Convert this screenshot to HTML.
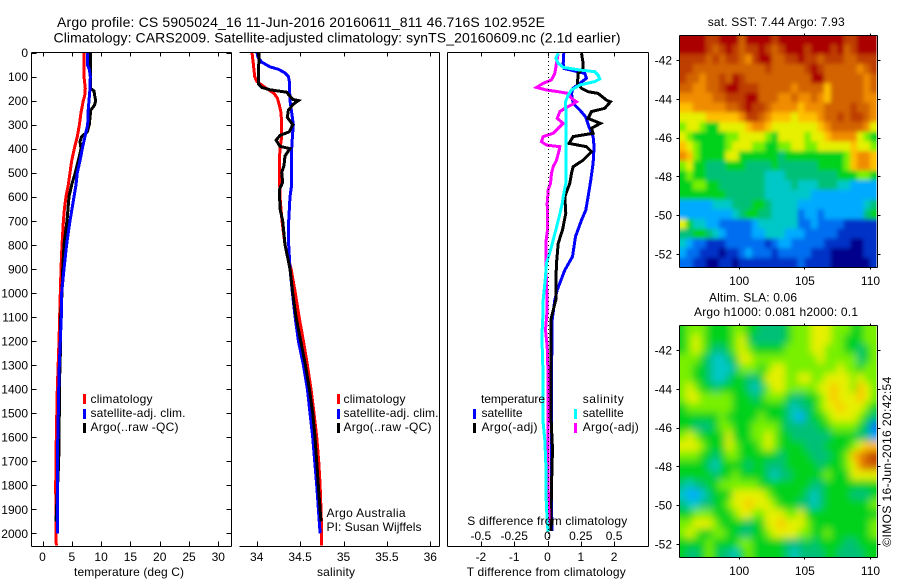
<!DOCTYPE html>
<html lang="en">
<head>
<meta charset="utf-8">
<title>Argo profile</title>
<style>
html,body{margin:0;padding:0;background:#fff;}
svg{display:block;}
text{font-family:"Liberation Sans",sans-serif;font-size:12px;fill:#000;}
.t14{font-size:14px;}
</style>
</head>
<body>
<svg id="chart" xmlns="http://www.w3.org/2000/svg" width="900" height="580" viewBox="0 0 900 580">
<defs>
<clipPath id="sst-clip"><rect x="680" y="36" width="196.5" height="231"/></clipPath>
<clipPath id="sla-clip"><rect x="680" y="326" width="196.5" height="231"/></clipPath>
<filter id="sst-soft" x="-10%" y="-10%" width="120%" height="120%"><feGaussianBlur stdDeviation="2"/></filter>
<filter id="sla-soft" x="-10%" y="-10%" width="120%" height="120%"><feGaussianBlur stdDeviation="4"/></filter>
</defs>
<rect x="0" y="0" width="900" height="580" fill="#fff"/>
<text class="t14" x="57" y="27" textLength="488" lengthAdjust="spacing">Argo profile: CS 5905024_16 11-Jun-2016 20160611_811 46.716S 102.952E</text>
<text class="t14" x="53.5" y="42.5" textLength="567" lengthAdjust="spacing">Climatology: CARS2009. Satellite-adjusted climatology: synTS_20160609.nc (2.1d earlier)</text>
<g clip-path="url(#sst-clip)"><g id="sst-layer" filter="url(#sst-soft)"></g></g>
<g clip-path="url(#sla-clip)"><g id="sla-layer" filter="url(#sla-soft)"></g></g>
<g id="mark-layer" fill="none" shape-rendering="crispEdges"></g>
<g id="axis-layer" stroke="#000" stroke-width="1" fill="none" shape-rendering="crispEdges"></g>
<g id="label-layer"></g>

<text x="74" y="576" textLength="110" lengthAdjust="spacing">temperature (deg C)</text>
<text x="317" y="576" textLength="38" lengthAdjust="spacing">salinity</text>
<text x="466.7" y="576" textLength="159" lengthAdjust="spacing">T difference from climatology</text>
<text x="467.3" y="525" textLength="160" lengthAdjust="spacing">S difference from climatology</text>

<g>
<rect x="83" y="394" width="3" height="10" fill="#f00"/>
<text x="90.5" y="403" textLength="62" lengthAdjust="spacing">climatology</text>
<rect x="83" y="409" width="3" height="10" fill="#00f"/>
<text x="90.5" y="417" textLength="95" lengthAdjust="spacing">satellite-adj. clim.</text>
<rect x="83" y="423" width="3" height="10" fill="#000"/>
<text x="90.5" y="431" textLength="88" lengthAdjust="spacing">Argo(..raw -QC)</text>
</g>
<g>
<rect x="337" y="394" width="3" height="10" fill="#f00"/>
<text x="343.5" y="403" textLength="62" lengthAdjust="spacing">climatology</text>
<rect x="337" y="409" width="3" height="10" fill="#00f"/>
<text x="343.5" y="417" textLength="95" lengthAdjust="spacing">satellite-adj. clim.</text>
<rect x="337" y="423" width="3" height="10" fill="#000"/>
<text x="343.5" y="431" textLength="88" lengthAdjust="spacing">Argo(..raw -QC)</text>
</g>
<g>
<text x="481" y="403" textLength="64" lengthAdjust="spacing">temperature</text>
<rect x="473" y="409" width="3" height="10" fill="#00f"/>
<text x="481.5" y="417" textLength="41" lengthAdjust="spacing">satellite</text>
<rect x="473" y="423" width="3" height="10" fill="#000"/>
<text x="481.5" y="431" textLength="56" lengthAdjust="spacing">Argo(-adj)</text>
<text x="582.7" y="403" textLength="41" lengthAdjust="spacing">salinity</text>
<rect x="574" y="409" width="3" height="10" fill="#0ff"/>
<text x="582.7" y="417" textLength="41" lengthAdjust="spacing">satellite</text>
<rect x="574" y="423" width="3" height="10" fill="#f0f"/>
<text x="582.7" y="431" textLength="56" lengthAdjust="spacing">Argo(-adj)</text>
</g>
<text x="326.5" y="517" textLength="79" lengthAdjust="spacing">Argo Australia</text>
<text x="326.5" y="531" textLength="95" lengthAdjust="spacing">PI: Susan Wijffels</text>

<text x="707.7" y="26" textLength="137" lengthAdjust="spacing">sat. SST: 7.44  Argo: 7.93</text>
<text x="709" y="301.7" textLength="88" lengthAdjust="spacing">Altim. SLA: 0.06</text>
<text x="694" y="316" textLength="164" lengthAdjust="spacing">Argo h1000: 0.081  h2000: 0.1</text>
<text transform="translate(891 546.7) rotate(-90)" x="0" y="0" textLength="170" lengthAdjust="spacing">©IMOS 16-Jun-2016 20:42:54</text>
</svg>

<script>
// ---------- profile data (depth in m) ----------
const climTDepth = [0,100,150,180,200,250,300,350,400,450,500,550,600,650,700,800,900,1000,1200,1400,1600,1800,2000,2050];
const climTValues = [7.08,7.08,7.31,7.2,6.97,6.57,6.29,5.94,5.43,4.98,4.69,4.41,4.01,3.73,3.56,3.33,3.16,3.04,2.82,2.53,2.36,2.25,2.3,2.36];

const satTDepth = [0,50,70,100,150,200,250,300,330,400,450,500,550,600,700,800,900,1000,1100,1200,1300,1400,1500,1700,1800,2000];
const satTValues = [7.65,7.65,7.99,8.16,8.1,7.93,7.76,7.71,7.42,6.8,6.4,5.94,5.72,5.38,4.69,4.12,3.67,3.27,3.21,3.04,2.87,2.76,2.7,2.53,2.53,2.53];

const argoTDepth = [0,70,150,160,180,200,220,240,300,330,350,370,400,450,500,550,600,700,800,900,1000,1100,1200,1400,1500,1700,1950];
const argoTValues = [8.22,8.22,8.22,8.79,8.9,9.07,8.85,8.22,7.99,7.65,6.68,6.4,6.57,6.11,5.6,4.98,4.52,4.18,3.67,3.44,3.33,3.1,3.1,2.87,2.87,2.76,2.3];

const climSDepth = [0,50,100,120,130,150,170,190,220,250,300,350,400,450,500,600,700,800,900,1000,1100,1200,1300,1400,1500,1600,1700,1800,1900,2000,2050];
const climSValues = [33.946,33.962,33.977,34,34.038,34.115,34.2,34.238,34.261,34.28,34.288,34.288,34.269,34.261,34.261,34.269,34.292,34.326,34.396,34.445,34.488,34.538,34.584,34.626,34.66,34.691,34.714,34.73,34.741,34.749,34.749];

const satSDepth = [0,20,40,60,70,85,100,120,200,250,300,350,400,500,550,600,700,800,900,1000,1100,1200,1300,1400,1500,1600,1700,1800,1900,2000];
const satSValues = [34.004,34.015,34.058,34.154,34.25,34.326,34.365,34.376,34.384,34.403,34.422,34.411,34.403,34.399,34.403,34.384,34.369,34.369,34.384,34.411,34.442,34.48,34.538,34.584,34.614,34.645,34.668,34.691,34.711,34.73];

const argoSDepth = [0,60,130,145,155,165,195,200,215,240,270,300,330,345,365,390,400,430,470,500,540,570,650,700,800,900,1000,1100,1200,1300,1400,1500,1600,1700,1800,1900,1950];
const argoSValues = [34.027,34.023,34.019,34.058,34.154,34.345,34.415,34.48,34.422,34.365,34.353,34.415,34.376,34.269,34.223,34.269,34.384,34.326,34.315,34.288,34.3,34.261,34.269,34.3,34.326,34.384,34.415,34.453,34.507,34.561,34.607,34.645,34.672,34.691,34.71,34.73,34.741];

const dSatTDepth = [3,45,66,87,107,128,149,170,211,239,267,308,350,392,461,530,600,655,697,766,849,905,988,1029,1112,1195,1300,1500,1700,1900,1990];
const dSatTValues = [0.49,0.47,0.49,1.12,1.17,0.97,0.77,0.72,0.77,0.97,1.14,1.24,1.37,1.4,1.37,1.3,1.22,1.15,1.02,0.84,0.75,0.52,0.29,0.22,0.14,0.14,0.12,0.12,0.12,0.12,0.14];

const dArgoTDepth = [3,45,66,87,128,149,163,170,198,205,232,246,274,295,315,336,350,378,392,413,448,475,503,544,600,669,738,794,877,960,1029,1112,1300,1500,1650,1800,1990];
const dArgoTValues = [1.02,1.07,1.07,0.92,0.9,1.02,1.22,1.52,1.77,1.89,1.72,1.32,1.22,1.59,1.32,1.37,0.77,0.65,1.17,1.32,1.07,0.77,0.72,0.67,0.52,0.55,0.45,0.32,0.27,0.25,0.25,0.1,0.1,0.1,0.15,0.12,0.1];

const dSatSDepth = [3,24,45,62,73,80,94,110,121,135,156,177,205,239,322,461,544,586,628,683,738,808,877,946,1029,1071,1154,1224,1362,1542,1612,1709,1820,1958,1993];
const dSatSValues = [0.08,0.0625,0.08,0.1175,0.2425,0.355,0.38,0.3925,0.355,0.2425,0.18,0.155,0.135,0.1375,0.1375,0.1375,0.1375,0.1225,0.11,0.0875,0.0625,0.03,-0.0075,-0.0175,-0.0325,-0.0325,-0.04,-0.04,-0.0325,-0.0325,-0.02,-0.0125,-0.0125,-0.0025,0.005];

const dArgoSDepth = [3,45,87,114,128,145,156,163,170,191,205,218,232,246,274,295,315,336,350,371,385,392,406,448,475,503,544,572,628,683,738,794,877,960,1029,1071,1154,1224,1362,1542,1680,1820,1958];
const dArgoSValues = [0.08,0.0675,0.055,0.03,-0.0325,-0.0825,-0.0075,0.08,0.155,0.18,0.2175,0.18,0.13,0.0925,0.0725,0.1175,0.08,0.0425,-0.0325,-0.045,-0.0075,0.0925,0.0875,0.0675,0.0425,0.03,0.0225,0.005,-0.0025,0,0,-0.0125,-0.0125,-0.0075,-0.0025,-0.0025,-0.015,-0.0025,0.005,0.005,0.005,0.005,0.0125];

// ---------- tick labels ----------
const depthTicks = [0,100,200,300,400,500,600,700,800,900,1000,1100,1200,1300,1400,1500,1600,1700,1800,1900,2000];
const tempTicks = [0,5,10,15,20,25,30];
const salTicks = [34,34.5,35,35.5,36];
const tDiffTicks = [-2,-1,0,1,2];
const sDiffTicks = [-0.5,-0.25,0,0.25,0.5];
const lonTicks = [100,105,110];
const latTicks = [-42,-44,-46,-48,-50,-52];

// ---------- map grids: colour level per 0.5 degree cell, north to south, west to east ----------
const sstLevels = [
[13,13,13,13,12,12,13,13,13,11,13,13,13,13,12,13,13,13,13,13,13,13,13,13,13,12,12,13,13,13],
[13,13,13,13,12,11,12,13,12,11,12,12,13,12,11,12,13,13,13,12,13,13,13,12,13,11,12,13,13,13],
[12,12,12,12,11,12,11,12,12,11,10,12,13,13,11,11,12,12,13,12,12,11,12,12,12,11,11,12,12,12],
[12,12,11,11,11,11,11,11,11,11,11,11,11,12,11,11,11,11,11,12,13,12,11,11,11,11,11,10,11,12],
[12,11,11,10,11,11,12,11,13,12,11,11,11,11,11,11,11,11,11,11,13,13,11,11,11,11,11,11,10,11],
[11,11,10,10,11,11,12,13,13,12,12,12,11,11,11,11,11,10,11,11,11,11,9,11,11,11,11,11,10,11],
[10,10,10,10,10,11,11,12,12,12,13,13,11,11,11,10,10,11,10,10,11,10,9,11,11,11,11,11,10,10],
[9,9,10,10,10,10,10,11,11,12,13,12,12,11,10,10,10,10,9,10,10,10,11,11,11,11,12,11,11,10],
[8,8,8,8,9,9,9,9,9,10,12,12,11,10,9,9,9,8,9,9,9,10,11,11,12,11,12,12,11,10],
[7,8,8,7,6,6,8,8,8,8,9,10,10,9,8,8,8,8,8,8,8,9,10,11,11,11,11,11,10,8],
[8,7,6,6,6,6,6,7,7,8,8,8,8,7,6,8,8,8,8,7,8,8,9,10,10,10,10,8,7,6],
[9,8,7,6,6,6,6,7,8,8,8,7,7,6,6,7,7,8,8,7,7,8,8,8,8,8,9,8,8,7],
[10,9,7,6,6,6,6,8,8,6,6,6,6,6,6,5,6,6,6,6,6,6,6,6,6,7,9,10,10,9],
[7,8,6,6,5,5,5,6,6,6,5,5,5,5,6,5,5,5,5,5,5,6,6,6,6,7,9,10,10,9],
[6,7,6,6,5,5,5,5,5,5,5,5,5,4,4,4,5,5,5,5,5,5,5,5,6,6,6,7,7,6],
[6,6,7,7,6,6,5,5,5,5,5,5,5,4,4,4,4,5,4,4,4,5,5,5,4,4,3,3,3,3],
[6,6,6,6,6,6,6,5,5,5,5,5,5,4,4,4,4,4,4,4,3,3,3,3,3,3,3,3,3,3],
[3,3,3,3,3,4,4,4,5,5,5,6,6,5,4,4,4,4,3,3,3,3,3,3,3,3,3,3,4,5],
[3,3,3,3,3,3,3,3,4,5,6,6,5,5,4,4,4,4,2,3,3,2,3,3,3,3,3,3,5,6],
[8,6,4,4,3,3,2,2,2,2,2,3,4,4,4,4,4,4,2,2,3,2,2,2,2,1,1,1,1,1],
[5,5,6,6,5,4,3,2,2,2,2,3,3,4,4,4,3,3,3,2,2,2,2,2,1,1,1,1,1,1],
[4,3,2,2,1,1,1,2,2,2,2,2,2,1,2,3,3,2,2,2,2,2,1,1,1,1,0,0,1,1],
[3,2,2,1,1,1,0,1,1,2,3,2,2,2,1,2,2,2,2,2,1,1,1,0,0,0,0,0,1,1],
[2,2,1,1,0,0,1,1,0,1,1,1,1,1,1,1,1,1,2,1,1,1,1,0,0,0,0,0,0,1]
];

const slaLevels = [
[6,7,7,7,6,6,6,6,7,7,6,6,5,5,5,5,6,7,7,7,8,8,8,7,7,7,6,6,7,7],
[6,7,8,7,6,6,6,6,7,8,6,5,5,5,5,5,6,7,7,7,8,8,8,7,7,6,6,6,7,7],
[6,7,8,7,6,5,5,6,7,8,7,6,6,6,6,6,7,7,7,7,8,8,7,7,7,6,6,5,6,7],
[7,7,7,6,5,4,4,5,6,8,8,7,7,7,7,7,7,7,7,7,7,8,7,7,7,7,7,5,6,7],
[7,7,6,6,5,4,4,4,5,7,7,7,6,7,8,8,7,7,7,7,7,7,7,7,8,7,7,6,7,7],
[7,7,6,6,5,4,4,5,6,6,5,5,6,8,8,8,7,7,8,8,7,7,8,8,8,8,7,8,7,7],
[7,8,7,6,6,5,6,6,6,6,5,4,5,7,8,8,7,7,7,7,7,8,8,9,8,8,7,9,8,7],
[7,8,8,7,7,7,7,7,6,6,6,5,6,7,7,7,6,5,5,6,6,7,8,9,8,8,8,9,8,7],
[6,7,7,7,7,7,7,7,6,6,6,6,6,6,6,6,5,4,5,5,6,7,8,8,9,8,8,8,7,6],
[6,6,6,6,6,6,7,6,6,6,6,6,7,6,6,6,5,4,3,5,6,6,7,8,8,8,8,7,6,5],
[6,6,5,5,5,6,7,7,6,6,6,7,7,7,7,6,5,5,5,5,5,6,6,7,7,7,7,6,5,2],
[7,8,7,6,6,6,6,8,6,6,6,7,7,8,7,6,6,5,5,5,5,5,5,6,6,6,6,5,5,3],
[8,8,8,7,6,6,6,8,7,6,6,6,7,8,7,6,6,6,6,5,5,5,6,6,6,6,7,8,9,9],
[7,7,7,6,6,5,6,7,7,6,6,6,6,6,6,5,6,6,6,6,5,5,5,6,6,7,9,10,11,12],
[6,6,6,6,5,4,6,6,6,6,5,6,6,5,5,5,6,6,6,6,6,5,6,6,6,7,8,10,11,11],
[6,6,6,6,6,5,6,6,7,6,6,6,6,5,4,5,5,6,6,6,6,6,7,6,6,6,8,8,8,8],
[5,4,5,5,6,6,7,7,7,7,7,7,6,6,6,6,6,6,6,6,5,5,6,6,6,6,6,6,6,6],
[4,3,3,4,5,6,6,6,8,8,8,8,8,7,6,6,6,6,6,5,4,5,6,6,6,6,5,5,5,6],
[5,4,4,5,5,6,6,7,8,8,9,8,8,8,7,6,6,6,5,5,4,5,6,6,6,6,6,6,6,7],
[6,6,7,7,7,6,6,6,7,8,8,7,7,8,8,8,7,7,8,6,6,6,6,6,6,6,6,6,6,6],
[7,7,8,8,8,7,6,6,6,6,5,6,6,8,8,9,8,8,8,7,6,6,6,6,6,6,6,6,6,7],
[7,8,7,6,6,7,7,6,6,5,5,6,6,7,8,8,8,8,7,7,6,6,7,6,6,6,6,6,6,7],
[6,6,6,6,7,6,6,6,6,7,7,6,6,6,6,6,5,5,5,6,5,6,6,6,6,5,5,6,6,6],
[6,5,5,6,7,6,5,5,4,6,7,6,6,6,6,6,5,4,5,5,5,5,6,6,5,5,5,5,6,6]
];

// ---------- scales ----------
const NS = 'http://www.w3.org/2000/svg';
const yDepth = d => 52.5 + d * 0.2404;
const xTemp = t => 42.5 + t * 5.86;
const xSal = s => 256.7 + (s - 34) * 86.8;
const xTDiff = t => 547.5 + t * 33.3;
const xSDiff = s => 547.5 + s * 133.2;
const xLon = lon => 738.7 + (lon - 100) * 13.13;
const yLat = (lat, off) => 60 + off + (-42 - lat) * 19.4;
const palette = ['#00008c','#0032c8','#006ef0','#00aaff','#00c8c8','#00c078','#00d21e','#78f000','#e6f000','#ffc000','#f08c00','#d26400','#be3c00','#aa0000'];

const markLayer = document.getElementById('mark-layer');
const axisLayer = document.getElementById('axis-layer');
const labelLayer = document.getElementById('label-layer');

function drawProfile(name, depths, values, xFn, color, width) {
  const el = document.createElementNS(NS, 'polyline');
  
  
  el.setAttribute('points', depths.map((d, i) => xFn(values[i]).toFixed(1) + ',' + yDepth(d).toFixed(1)).join(' '));
  el.setAttribute('stroke', color);
  el.setAttribute('stroke-width', width);
  markLayer.appendChild(el);
}

function drawLine(name, x1, y1, x2, y2, dash) {
  const el = document.createElementNS(NS, 'line');
  
  
  el.setAttribute('x1', x1);
  el.setAttribute('y1', y1);
  el.setAttribute('x2', x2);
  el.setAttribute('y2', y2);
  if (dash) el.setAttribute('stroke-dasharray', dash);
  axisLayer.appendChild(el);
}

function drawLabel(name, x, y, str, anchor) {
  const el = document.createElementNS(NS, 'text');
  
  
  el.setAttribute('x', x);
  el.setAttribute('y', y);
  el.setAttribute('text-anchor', anchor);
  el.textContent = str;
  labelLayer.appendChild(el);
}

// Cells on the outer edge run past the clip so the softening does not fade at the frame.
function drawMap(name, grid, off, layer) {
  const lastRow = grid.length - 1;
  grid.forEach((row, r) => {
    const lat = -40.7 - r * 0.5;
    const lastCol = row.length - 1;
    row.forEach((level, c) => {
      const lon = 95.5 + c * 0.5;
      const left = xLon(lon) - (c === 0 ? 14 : 0);
      const right = xLon(lon + 0.5) + (c === lastCol ? 14 : 0.4);
      const top = yLat(lat, off) - (r === 0 ? 14 : 0);
      const bottom = yLat(lat - 0.5, off) + (r === lastRow ? 14 : 0.4);
      const cell = document.createElementNS(NS, 'rect');
      
      
      cell.setAttribute('x', left.toFixed(2));
      cell.setAttribute('y', top.toFixed(2));
      cell.setAttribute('width', (right - left).toFixed(2));
      cell.setAttribute('height', (bottom - top).toFixed(2));
      cell.setAttribute('fill', palette[Math.max(0, Math.min(13, Math.round(level)))]);
      layer.appendChild(cell);
    });
  });
}

// ---------- maps ----------
drawMap('sst-cell', sstLevels, 0, document.getElementById('sst-layer'));
drawMap('sla-cell', slaLevels, 290, document.getElementById('sla-layer'));

// ---------- profile lines ----------
drawProfile('temperature-climatology-line', climTDepth, climTValues, xTemp, '#f00', 3);
drawProfile('temperature-argo-line', argoTDepth, argoTValues, xTemp, '#000', 3);
drawProfile('temperature-satellite-line', satTDepth, satTValues, xTemp, '#00f', 3);

drawProfile('salinity-climatology-line', climSDepth, climSValues, xSal, '#f00', 3);
drawProfile('salinity-satellite-line', satSDepth, satSValues, xSal, '#00f', 3);
drawProfile('salinity-argo-line', argoSDepth, argoSValues, xSal, '#000', 3);

drawProfile('t-diff-satellite-line', dSatTDepth, dSatTValues, xTDiff, '#00f', 3);
drawProfile('t-diff-argo-line', dArgoTDepth, dArgoTValues, xTDiff, '#000', 3);
drawProfile('s-diff-argo-line', dArgoSDepth, dArgoSValues, xSDiff, '#f0f', 3);
drawProfile('s-diff-satellite-line', dSatSDepth, dSatSValues, xSDiff, '#0ff', 3);

// ---------- frames ----------
[[31.5,231.5,'temperature'],[239.5,439.5,'salinity'],[447.5,648.5,'difference']].forEach(p => {
  drawLine(p[2] + '-axis-top', p[0], 52.5, p[1], 52.5);
  drawLine(p[2] + '-axis-bottom', p[0], 546.5, p[1], 546.5);
  if (p[2] !== 'salinity') drawLine(p[2] + '-axis-left', p[0], 52.5, p[0], 546.5);
  drawLine(p[2] + '-axis-right', p[1], 52.5, p[1], 546.5);
});

// ---------- depth ticks (left panel) ----------
depthTicks.forEach(d => {
  const y = Math.round(yDepth(d)) + 0.5;
  drawLine('depth-tick-left', 31.5, y, 36.5, y);
  drawLine('depth-tick-right', 226.5, y, 231.5, y);
  drawLabel('depth-tick-label', 28, yDepth(d) + 4.5, String(d), 'end');
});

// ---------- bottom axes ----------
function xAxis(name, ticks, xFn, topTick) {
  ticks.forEach(t => {
    const x = Math.round(xFn(t)) + 0.5;
    drawLine(name + '-tick-bottom', x, 541.5, x, 546.5);
    if (topTick) drawLine(name + '-tick-top', x, 52.5, x, 56.5);
    drawLabel(name + '-tick-label', xFn(t), 561, String(t), 'middle');
  });
}
xAxis('temperature', tempTicks, xTemp, true);
xAxis('salinity', salTicks, xSal, true);
xAxis('t-diff', tDiffTicks, xTDiff, true);

sDiffTicks.forEach(s => {
  drawLabel('s-diff-tick-label', xSDiff(s), 540, String(s), 'middle');
});

// zero reference line in difference panel
drawLine('zero-difference-line', 548.5, 53, 548.5, 546, '1 3');

// ---------- map frames and ticks ----------
[[0,'sst-map'],[290,'sla-map']].forEach(m => {
  const off = m[0], nm = m[1];
  const top = 35.5 + off, bottom = 267.5 + off;
  drawLine(nm + '-frame-top', 679.5, top, 877.5, top);
  drawLine(nm + '-frame-bottom', 679.5, bottom, 877.5, bottom);
  drawLine(nm + '-frame-left', 679.5, top, 679.5, bottom);
  drawLine(nm + '-frame-right', 877.5, top, 877.5, bottom);
  lonTicks.forEach(lon => {
    const x = Math.round(xLon(lon)) + 0.5;
    drawLine(nm + '-lon-tick-top', x, top - 2, x, top);
    drawLine(nm + '-lon-tick-bottom', x, bottom, x, bottom + 2);
    drawLabel(nm + '-lon-label', xLon(lon) + 0.5, 285 + off, String(lon), 'middle');
  });
  latTicks.forEach(lat => {
    const y = Math.round(yLat(lat, off)) + 0.5;
    drawLine(nm + '-lat-tick-left', 676.5, y, 679.5, y);
    drawLine(nm + '-lat-tick-right', 877.5, y, 880.5, y);
    drawLabel(nm + '-lat-label', 672, yLat(lat, off) + 4.5, String(lat), 'end');
  });
});
</script>
</body>
</html>
